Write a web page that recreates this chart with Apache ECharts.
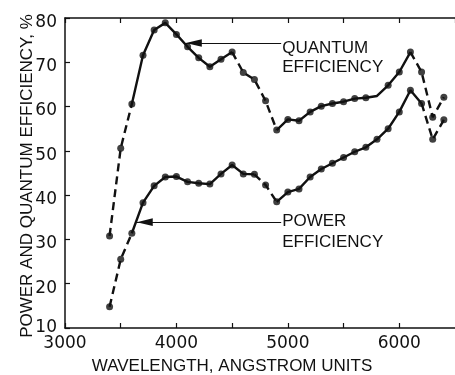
<!DOCTYPE html>
<html>
<head>
<meta charset="utf-8">
<script src="https://cdn.jsdelivr.net/npm/echarts@6/dist/echarts.min.js"></script>
<style>
  html, body { margin: 0; padding: 0; background: #fff; }
  #chart { width: 455px; height: 375px; }
</style>
</head>
<body>
<div id="chart"></div>
<script>
// Wavelength samples (Angstrom) shared by both curves
const wavelengths = [3400, 3500, 3600, 3700, 3800, 3900, 4000, 4100, 4200, 4300,
                     4400, 4500, 4600, 4700, 4800, 4900, 5000, 5100, 5200, 5300,
                     5400, 5500, 5600, 5700, 5800, 5900, 6000, 6100, 6200, 6300, 6400];

// Quantum efficiency, %
const quantumEff = [30.8, 50.6, 60.6, 71.6, 77.3, 78.9, 76.3, 73.5, 71.0, 69.0,
                    70.7, 72.3, 67.7, 66.1, 61.3, 54.7, 57.1, 56.8, 58.8, 60.1,
                    60.7, 61.1, 61.8, 62.0, 62.4, 64.8, 67.8, 72.3, 67.8, 57.6, 62.1];

// Power efficiency, %
const powerEff = [14.8, 25.5, 31.4, 38.3, 42.1, 44.1, 44.2, 43.0, 42.7, 42.5,
                  44.8, 46.8, 44.8, 44.7, 42.3, 38.5, 40.7, 41.4, 44.1, 45.9,
                  47.2, 48.5, 49.8, 50.8, 52.6, 55.0, 58.8, 63.7, 60.7, 52.6, 57.0];

// Wavelength spans drawn with a broken line
const quantumDashed = [[3400, 3600], [4500, 4900], [6100, 6400]];
const powerDashed = [[3400, 3600], [4700, 4900], [6200, 6400]];

// Sample points on the curve that carry no dot
const quantumUnmarked = [5800];
const powerUnmarked = [];

// Axis ticks
const xTickLabels = [3000, 4000, 5000, 6000];
const yTickLabels = [10, 20, 30, 40, 50, 60, 70, 80];

const INK = '#111';
const inDashed = (spans, a, b) => spans.some(s => a >= s[0] && b <= s[1]);

// Split one curve into consecutive runs of solid / dashed segments
function curveSeries(values, spans, name) {
  const out = [];
  let run = null;
  for (let i = 0; i < wavelengths.length - 1; i++) {
    const dashed = inDashed(spans, wavelengths[i], wavelengths[i + 1]);
    if (!run || run.dashed !== dashed) {
      run = { dashed, pts: [[wavelengths[i], values[i]]] };
      out.push(run);
    }
    run.pts.push([wavelengths[i + 1], values[i + 1]]);
  }
  return out.map((r, k) => ({
    name: name + '-' + k,
    type: 'line',
    data: r.pts,
    showSymbol: false,
    silent: true,
    animation: false,
    lineStyle: { color: INK, width: 2.4, type: r.dashed ? [8, 5] : 'solid' }
  }));
}

function dotSeries(values, unmarked, name, arrow) {
  const s = {
    name: name,
    type: 'scatter',
    data: wavelengths.map((w, i) => [w, values[i]]).filter(p => unmarked.indexOf(p[0]) < 0),
    symbol: 'circle',
    symbolSize: 7,
    itemStyle: { color: INK },
    animation: false,
    silent: true
  };
  if (arrow) {
    s.markLine = {
      silent: true,
      animation: false,
      symbol: ['none', 'none'],
      label: { show: false },
      lineStyle: { color: INK, width: 1, type: 'solid' },
      data: [[{ coord: arrow.from }, { coord: arrow.to }]]
    };
  }
  return s;
}

// Annotation arrows (data coordinates; "to" is the arrow tip)
const quantumArrow = { from: [4940, 74.35], to: [4084, 74.35] };
const powerArrow = { from: [4940, 33.9], to: [3644, 33.9] };

const chart = echarts.init(document.getElementById('chart'), null, { renderer: 'canvas' });

const axisCommon = {
  type: 'value',
  min: 3000,
  max: 6500,
  interval: 500,
  axisLine: { show: true, lineStyle: { color: INK, width: 1.5 } },
  axisTick: { show: true, inside: true, length: 5, lineStyle: { color: INK, width: 1.2 } },
  splitLine: { show: false }
};

chart.setOption({
  backgroundColor: '#fff',
  animation: false,
  grid: { left: 65, top: 18, width: 397, height: 310, containLabel: false },
  xAxis: [
    Object.assign({}, axisCommon, {
      position: 'bottom',
      axisLabel: {
        show: true,
        margin: 7,
        color: INK,
        fontFamily: 'DejaVu Sans',
        fontSize: 17,
        showMaxLabel: false,
        formatter: v => (xTickLabels.indexOf(v) >= 0 ? String(v) : '')
      }
    }),
    Object.assign({}, axisCommon, {
      position: 'top',
      axisLabel: { show: false }
    })
  ],
  yAxis: {
    type: 'value',
    min: 10,
    max: 80,
    interval: 10,
    axisLine: { show: true, lineStyle: { color: INK, width: 1.5 } },
    axisTick: { show: true, inside: true, length: 5, lineStyle: { color: INK, width: 1.2 } },
    splitLine: { show: false },
    axisLabel: {
      margin: 8,
      color: INK,
      fontFamily: 'DejaVu Sans',
      fontSize: 17,
      formatter: v => (yTickLabels.indexOf(v) < 0 ? '' : (v === 10 ? '{low|' + v + '}' : '{std|' + v + '}')),
      rich: {
        std: { fontFamily: 'DejaVu Sans', fontSize: 17, color: INK, padding: [9, 0, 0, 0] },
        low: { fontFamily: 'DejaVu Sans', fontSize: 17, color: INK }
      }
    }
  },
  series: []
    .concat(curveSeries(quantumEff, quantumDashed, 'quantum'))
    .concat(curveSeries(powerEff, powerDashed, 'power'))
    .concat([
      dotSeries(quantumEff, quantumUnmarked, 'Quantum efficiency', quantumArrow),
      dotSeries(powerEff, powerUnmarked, 'Power efficiency', powerArrow)
    ])
});

// Titles, curve annotations and arrowheads
const toPx = c => chart.convertToPixel({ gridIndex: 0 }, c);
const qAnchor = toPx(quantumArrow.from);
const pAnchor = toPx(powerArrow.from);
const textStyle = (t, x, y, extra) => ({
  type: 'text', x: x, y: y, silent: true,
  style: Object.assign({
    text: t, fill: INK, font: '17px "Liberation Sans", Arial, sans-serif',
    textAlign: 'left', textVerticalAlign: 'top', lineHeight: 19
  }, extra || {})
});
// slender filled head pointing left, tip at the given point
const arrowHead = tip => {
  const p = toPx(tip);
  return {
    type: 'polygon', silent: true,
    shape: { points: [[p[0], p[1]], [p[0] + 16, p[1] - 3.8], [p[0] + 16, p[1] + 3.8]] },
    style: { fill: INK }
  };
};

chart.setOption({
  graphic: [
    arrowHead(quantumArrow.to),
    arrowHead(powerArrow.to),
    textStyle('QUANTUM\nEFFICIENCY', qAnchor[0] + 1, qAnchor[1] - 4),
    textStyle('POWER\nEFFICIENCY', pAnchor[0] + 1, pAnchor[1] - 11, { lineHeight: 21 }),
    textStyle('WAVELENGTH, ANGSTROM UNITS', 232, 366, { textAlign: 'center', textVerticalAlign: 'middle' }),
    {
      type: 'text', x: 27, y: 176, rotation: Math.PI / 2, silent: true,
      style: {
        text: 'POWER AND QUANTUM EFFICIENCY, %', fill: INK,
        font: '17px "Liberation Sans", Arial, sans-serif',
        textAlign: 'center', textVerticalAlign: 'middle'
      }
    }
  ]
});
</script>
</body>
</html>
